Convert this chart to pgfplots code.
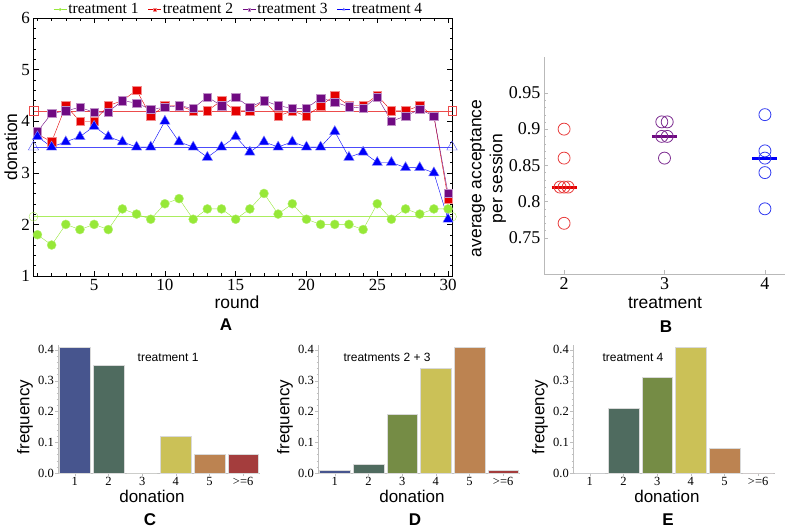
\documentclass[border=0pt]{standalone}
\usepackage{pgfplots}
\usepackage{pgfplotstable}
\pgfplotsset{compat=1.18}
\usepackage{fontspec}
\setmainfont{Liberation Sans}
\newfontfamily\tms{Liberation Serif}

\definecolor{tgreen}{RGB}{150,232,55}
\definecolor{tred}{RGB}{228,0,0}
\definecolor{tpurple}{RGB}{112,10,130}
\definecolor{tblue}{RGB}{0,0,250}
\definecolor{bred}{RGB}{232,60,60}
\definecolor{bpurple}{RGB}{125,45,145}
\definecolor{bblue}{RGB}{50,60,240}
\definecolor{c1}{RGB}{71,85,142}
\definecolor{c2}{RGB}{79,107,95}
\definecolor{c3}{RGB}{117,140,69}
\definecolor{c4}{RGB}{203,193,87}
\definecolor{c5}{RGB}{188,131,81}
\definecolor{c6}{RGB}{164,61,61}

% mean donation per round
\pgfplotstableread{
round t1 t2 t3 t4
1 1.8 3.75 3.8 3.7
2 1.6 3.6 4.15 3.5
3 2.0 4.3 4.2 3.6
4 1.9 4.0 4.27 3.7
5 2.0 4.0 4.17 3.9
6 1.9 4.3 4.18 3.7
7 2.3 4.4 4.4 3.6
8 2.2 4.6 4.35 3.5
9 2.1 4.1 4.23 3.5
10 2.4 4.3 4.27 4.0
11 2.5 4.3 4.3 3.6
12 2.1 4.2 4.25 3.5
13 2.3 4.2 4.47 3.3
14 2.3 4.4 4.3 3.5
15 2.1 4.2 4.47 3.7
16 2.3 4.2 4.27 3.4
17 2.6 4.4 4.4 3.6
18 2.2 4.1 4.3 3.5
19 2.4 4.2 4.25 3.6
20 2.1 4.1 4.25 3.5
21 2.0 4.3 4.45 3.5
22 2.0 4.5 4.37 3.8
23 2.0 4.3 4.28 3.3
24 1.9 4.3 4.25 3.4
25 2.4 4.5 4.47 3.2
26 2.1 4.2 4.0 3.2
27 2.3 4.2 4.1 3.1
28 2.2 4.3 4.23 3.1
29 2.3 4.1 4.1 3.0
30 2.3 2.5 2.6 2.1
}\donation

% acceptance per session
\pgfplotstableread{
x y
2 0.90
2 0.86
1.96 0.82
2 0.82
2.04 0.82
2 0.77
}\accA
\pgfplotstableread{
x y
2.973 0.91
3.027 0.91
2.973 0.89
3.027 0.89
3 0.86
}\accB
\pgfplotstableread{
x y
4 0.92
4 0.87
4 0.86
4 0.84
4 0.79
}\accC

\newcommand{\dbar}[3]{\addplot[ybar, bar shift=0pt, bar width=0.91, fill=#1, draw=gray!30] coordinates {(#2,#3)};}

\pgfplotsset{
  barpanel/.style={
    scale only axis, width=202pt, height=128pt, anchor=south west,
    xmin=0.5, xmax=6.5, ymin=0, ymax=0.416,
    axis lines=left, axis line style={-, gray!50},
    xtick={1,...,6}, xticklabels={1,2,3,4,5,{>=6}},
    ytick={0,0.1,0.2,0.3,0.4}, minor y tick num=4,
    yticklabel style={/pgf/number format/.cd, fixed, fixed zerofill, precision=1},
    tick align=outside, tick style={gray!50}, major tick length=3pt, minor tick length=1.5pt,
    /pgf/number format/assume math mode=true,
    tick label style={font=\tms\fontsize{12.5}{13}\selectfont, black, inner sep=1pt},
    xlabel=donation, ylabel=frequency,
    label style={font=\fontsize{17}{19}\selectfont, inner sep=0pt},
    xlabel style={at={(axis description cs:0.465,-0.185)}, anchor=center},
    ylabel style={at={(axis description cs:-0.163,0.4375)}, anchor=center},
  }
}

\begin{document}
\begin{tikzpicture}
\useasboundingbox (0,0) rectangle (787pt,528pt);

% panel A
\begin{axis}[
  scale only axis, width=418.5pt, height=258pt, at={(33.5pt,252pt)}, anchor=south west,
  xmin=0.72, xmax=30.28, ymin=1, ymax=6,
  xtick={5,10,...,30}, ytick={1,...,6},
  minor xtick={1,...,30}, minor y tick num=4,
  tick align=inside, major tick length=5pt, minor tick length=2.5pt,
  tick style={black, thin},
  /pgf/number format/assume math mode=true,
  tick label style={font=\tms\fontsize{17}{17}\selectfont},
  xlabel=round, ylabel=donation,
  label style={font=\fontsize{17.5}{20}\selectfont},
  xlabel style={at={(axis description cs:0.486,-0.1)}, anchor=center},
  ylabel style={at={(axis description cs:-0.054,0.5)}, anchor=center},
  legend columns=4,
  legend style={at={(0.49,1)}, anchor=south, yshift=1pt, draw=none, fill=none, inner sep=0pt,
    nodes={inner sep=1.5pt},
    font=\tms\fontsize{15.5}{15.5}\selectfont,
    /tikz/every even column/.append style={column sep=8pt}},
  legend image code/.code={\draw[mark repeat=2, mark phase=2, #1, mark size=1.3pt]
    plot coordinates {(0pt,0pt) (6.5pt,0pt) (13pt,0pt)};},
]
\addplot[forget plot, tgreen!80, thin, mark=o, mark size=4.5pt] coordinates {(0.72,2.15) (30.28,2.15)};
\addplot[forget plot, tred!70, thin, mark=square, mark size=4.2pt] coordinates {(0.72,4.2) (30.28,4.2)};
\addplot[forget plot, tblue!70, thin, mark=triangle, mark size=6pt] coordinates {(0.72,3.5) (30.28,3.5)};

\addplot[tgreen, thin, mark=*, mark size=4.5pt, mark options={fill=tgreen, draw=tgreen!70!white}] table[x=round, y=t1] {\donation};
\addplot[tred, thin, mark=square*, mark size=4.2pt, mark options={fill=tred, draw=tred!45!white}] table[x=round, y=t2] {\donation};
\addplot[tpurple, thin, mark=square*, mark size=4.2pt, mark options={fill=tpurple, draw=tpurple!45!white}] table[x=round, y=t3] {\donation};
\addplot[tblue, thin, mark=triangle*, mark size=6pt, mark options={fill=tblue, draw=tblue!45!white}] table[x=round, y=t4] {\donation};
\legend{treatment 1, treatment 2, treatment 3, treatment 4}
\end{axis}

% panel B
\begin{axis}[
  scale only axis, width=241pt, height=217.3pt, at={(544pt,254pt)}, anchor=south west,
  xmin=1.8, xmax=4.2, ymin=0.7, ymax=1.0,
  axis lines=left, axis line style={-, gray!55},
  xtick={2,3,4}, ytick={0.75,0.8,0.85,0.9,0.95}, minor y tick num=4,
  tick align=inside, tick style={gray!55}, major tick length=4pt, minor tick length=2pt,
  /pgf/number format/assume math mode=true,
  tick label style={font=\tms\fontsize{18}{18}\selectfont, black},
  xlabel=treatment, ylabel={average acceptance\\per session},
  label style={font=\fontsize{17.5}{21}\selectfont},
  xlabel style={at={(axis description cs:0.502,-0.133)}, anchor=center},
  ylabel style={at={(axis description cs:-0.232,0.44)}, anchor=center, align=center},
]
\addplot[only marks, mark=o, mark size=6pt, bred, mark options={line width=0.8pt}] table[x=x, y=y] {\accA};
\addplot[only marks, mark=o, mark size=6pt, bpurple, mark options={line width=0.8pt}] table[x=x, y=y] {\accB};
\addplot[only marks, mark=o, mark size=6pt, bblue, mark options={line width=0.8pt}] table[x=x, y=y] {\accC};
\addplot[tred, line width=3pt] coordinates {(1.875,0.82) (2.125,0.82)};
\addplot[tpurple, line width=3pt] coordinates {(2.875,0.89) (3.125,0.89)};
\addplot[tblue, line width=3pt] coordinates {(3.875,0.86) (4.125,0.86)};
\end{axis}

% panel C
\begin{axis}[barpanel, at={(58pt,55pt)}]
\dbar{c1}{1}{0.41}
\dbar{c2}{2}{0.35}
\dbar{c3}{3}{0}
\dbar{c4}{4}{0.12}
\dbar{c5}{5}{0.06}
\dbar{c6}{6}{0.06}
\node[font=\fontsize{12}{14}\selectfont] at (rel axis cs:0.545,0.906) {treatment 1};
\end{axis}

% panel D
\begin{axis}[barpanel, at={(318pt,55pt)}]
\dbar{c1}{1}{0.01}
\dbar{c2}{2}{0.03}
\dbar{c3}{3}{0.19}
\dbar{c4}{4}{0.34}
\dbar{c5}{5}{0.41}
\dbar{c6}{6}{0.01}
\node[font=\fontsize{12}{14}\selectfont] at (rel axis cs:0.342,0.906) {treatments 2 + 3};
\end{axis}

% panel E
\begin{axis}[barpanel, at={(573pt,55pt)}]
\dbar{c1}{1}{0}
\dbar{c2}{2}{0.21}
\dbar{c3}{3}{0.31}
\dbar{c4}{4}{0.41}
\dbar{c5}{5}{0.08}
\dbar{c6}{6}{0}
\node[font=\fontsize{12}{14}\selectfont] at (rel axis cs:0.297,0.906) {treatment 4};
\end{axis}

% panel letters
\begin{scope}[every node/.style={font=\bfseries\fontsize{17}{17}\selectfont}]
\node at (226pt,203pt) {A};
\node at (666pt,201pt) {B};
\node at (150pt,8pt) {C};
\node at (415pt,8pt) {D};
\node at (668pt,8pt) {E};
\end{scope}
\end{tikzpicture}
\end{document}
